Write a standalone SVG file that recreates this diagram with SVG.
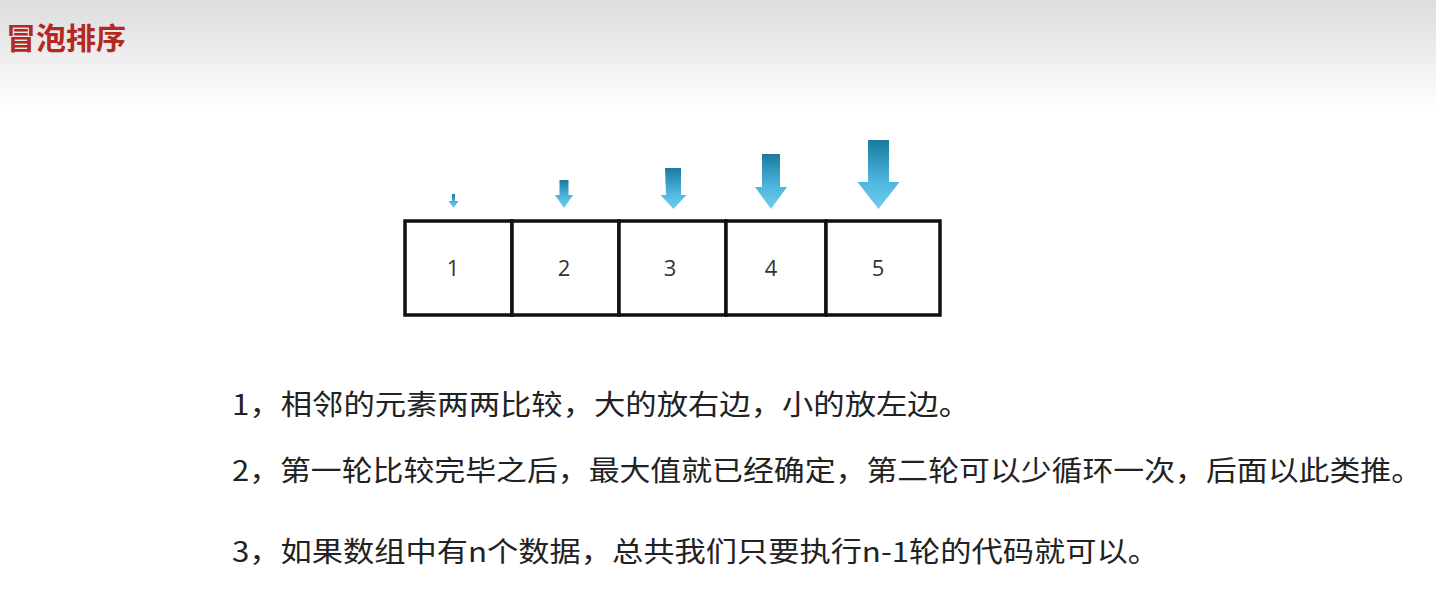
<svg xmlns="http://www.w3.org/2000/svg" width="1436" height="600" viewBox="0 0 1436 600">
<defs>
<linearGradient id="hdr" x1="0" y1="0" x2="0" y2="1"><stop offset="0" stop-color="#dcdcdc"/><stop offset="1" stop-color="#ffffff"/></linearGradient>
<linearGradient id="ar" x1="0" y1="0" x2="0" y2="1"><stop offset="0" stop-color="#1a7a9e"/><stop offset="0.6" stop-color="#4fb6de"/><stop offset="1" stop-color="#70cdee"/></linearGradient>
<style>
.t{font-family:"Noto Sans CJK SC","Noto Sans",sans-serif;font-size:28px;fill:#222}
.n{font-family:"Open Sans","Noto Sans",sans-serif;font-size:22px;fill:#333;text-anchor:middle}
.c{fill:#fff;stroke:#111;stroke-width:3.5}
.a{fill:url(#ar)}
</style>
</defs>
<rect width="1436" height="600" fill="#fff"/>
<rect width="1436" height="110" fill="url(#hdr)"/>
<text x="6" y="49" style="font-family:'Noto Sans CJK SC',sans-serif;font-size:30px;font-weight:bold;fill:#b3291f">冒泡排序</text>
<g id="arrows">
<path class="a" d="M452 194h3v7h3.5l-5 7-5-7h3.5z"/>
<path class="a" d="M559.5 180h9v15h4.5l-9 13-9-13h4.5z"/>
<path class="a" d="M665 168h16v27h5.5l-13 14-13-14h5.5z"/>
<path class="a" d="M762 154h18v33h7l-16 22-16-22h7z"/>
<path class="a" d="M868 140h21v42h10.5l-21 27-21-27h10.5z"/>
</g>
<g id="cells">
<g id="c1"><rect class="c" x="405" y="221" width="107" height="94"/><text class="n" x="453" y="276">1</text></g>
<g id="c2"><rect class="c" x="512" y="221" width="107" height="94"/><text class="n" x="564" y="276">2</text></g>
<g id="c3"><rect class="c" x="619" y="221" width="107" height="94"/><text class="n" x="670" y="276">3</text></g>
<g id="c4"><rect class="c" x="726" y="221" width="100" height="94"/><text class="n" x="771" y="276">4</text></g>
<g id="c5"><rect class="c" x="826" y="221" width="114" height="94"/><text class="n" x="878" y="276">5</text></g>
</g>
<text class="t" x="232" y="415" textLength="738" lengthAdjust="spacingAndGlyphs">1，相邻的元素两两比较，大的放右边，小的放左边。</text>
<text class="t" x="232" y="481" textLength="1190" lengthAdjust="spacingAndGlyphs">2，第一轮比较完毕之后，最大值就已经确定，第二轮可以少循环一次，后面以此类推。</text>
<text class="t" x="232" y="562" textLength="927" lengthAdjust="spacingAndGlyphs">3，如果数组中有n个数据，总共我们只要执行n-1轮的代码就可以。</text>
</svg>
